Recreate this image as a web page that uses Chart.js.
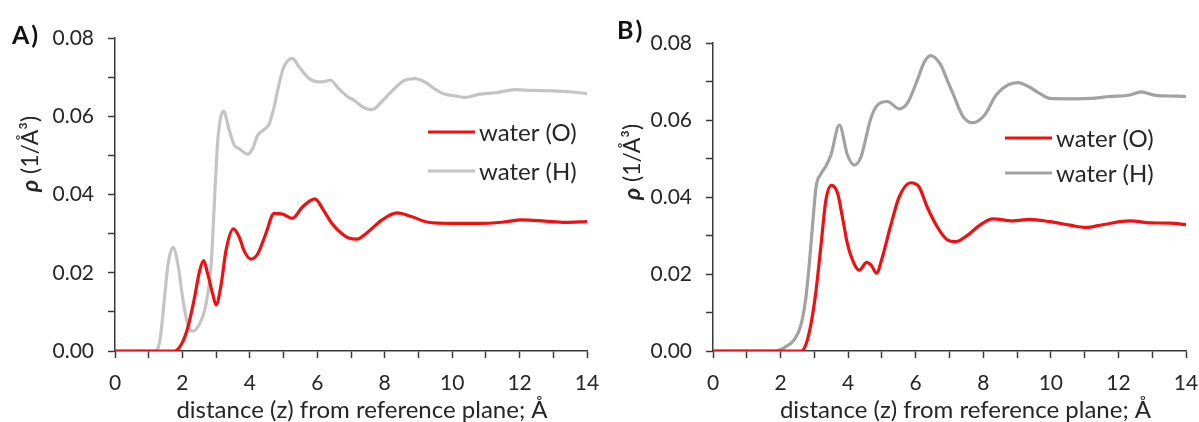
<!DOCTYPE html>
<html>
<head>
<meta charset="utf-8">
<script src="https://cdn.jsdelivr.net/npm/chart.js@4.4.0/dist/chart.umd.min.js"></script>
<style>
  html, body { margin: 0; padding: 0; background: #fff; }
  #wrap { position: relative; width: 1199px; height: 422px; overflow: hidden; }
  .panel { position: absolute; top: 0; height: 422px; }
  .tag { position: absolute; font: bold 25px Lato, "Open Sans", sans-serif; color: #111; letter-spacing: 2px; }
</style>
</head>
<body>
<div id="wrap">
  <div class="panel" style="left:0;width:600px"><canvas id="chartA"></canvas></div>
  <div class="panel" style="left:600px;width:599px"><canvas id="chartB"></canvas></div>
  <div class="tag" style="left:12px;top:19px">A)</div>
  <div class="tag" style="left:617px;top:14px">B)</div>
</div>
<script>
// tick labels
const xTickLabels = [0, 2, 4, 6, 8, 10, 12, 14];
const yTickLabels = [0, 0.02, 0.04, 0.06, 0.08];

// panel A - water (O)
const zA_O = [0, 1.77, 1.97, 2.16, 2.36, 2.51, 2.63, 2.75, 2.9, 3.0, 3.15, 3.29, 3.51, 3.69, 3.83, 4.03, 4.23, 4.47, 4.72, 4.97,
  5.26, 5.56, 5.93, 6.19, 6.44, 6.74, 6.93, 7.17, 7.5, 7.92, 8.37, 8.81, 9.29, 9.99, 10.78, 11.47, 12.07, 12.76, 13.35, 14];
const rhoA_O = [0, 0, 0.0017, 0.006, 0.0137, 0.0205, 0.0231, 0.0197, 0.0145, 0.0118, 0.0171, 0.0256, 0.0312, 0.029, 0.0256, 0.0235, 0.0248, 0.0299, 0.0352, 0.035,
  0.0339, 0.0368, 0.0389, 0.0359, 0.0325, 0.0299, 0.0289, 0.0286, 0.0304, 0.0335, 0.0353, 0.0343, 0.0329, 0.0326, 0.0326, 0.0329, 0.0335, 0.0332, 0.0329, 0.0331];

// panel A - water (H)
const zA_H = [0, 1.18, 1.33, 1.47, 1.57, 1.72, 1.87, 2.02, 2.16, 2.31, 2.5, 2.7, 2.85, 2.98, 3.05, 3.22, 3.39, 3.54, 3.69, 3.93,
  4.08, 4.23, 4.42, 4.57, 4.72, 4.87, 5.01, 5.26, 5.46, 5.75, 6.0, 6.15, 6.39, 6.64, 6.9, 7.12, 7.36, 7.63, 7.93, 8.22,
  8.55, 8.9, 9.2, 9.5, 9.8, 10.09, 10.39, 10.79, 11.28, 11.87, 12.37, 12.97, 13.56, 14];
const rhoA_H = [0, 0, 0.0026, 0.0137, 0.022, 0.0265, 0.022, 0.0128, 0.0068, 0.0051, 0.0068, 0.012, 0.022, 0.0436, 0.054, 0.0613, 0.0564, 0.0526, 0.0517, 0.0503,
  0.0517, 0.0551, 0.0566, 0.058, 0.0624, 0.0684, 0.0726, 0.0748, 0.0726, 0.0697, 0.0688, 0.0688, 0.0692, 0.067, 0.065, 0.0639, 0.0623, 0.0617, 0.0639, 0.0665,
  0.069, 0.0696, 0.0687, 0.0669, 0.0656, 0.0652, 0.0648, 0.0656, 0.066, 0.0668, 0.0666, 0.0665, 0.0662, 0.0658];

// panel B - water (O)
const zB_O = [0, 2.6, 2.75, 2.9, 3.05, 3.2, 3.34, 3.51, 3.69, 3.83, 3.98, 4.18, 4.33, 4.55, 4.69, 4.84, 5.01, 5.26, 5.51, 5.85,
  6.1, 6.34, 6.64, 6.93, 7.19, 7.54, 7.9, 8.28, 8.88, 9.37, 9.97, 10.56, 11.04, 11.53, 12.34, 12.93, 13.52, 14];
const rhoB_O = [0, 0, 0.0017, 0.007, 0.0157, 0.0278, 0.0391, 0.043, 0.0409, 0.0348, 0.0278, 0.0226, 0.021, 0.023, 0.0222, 0.0202, 0.0243, 0.0326, 0.04, 0.0437,
  0.0426, 0.0374, 0.0322, 0.0289, 0.0284, 0.0301, 0.0327, 0.0343, 0.0338, 0.0342, 0.0336, 0.0327, 0.0321, 0.0328, 0.0338, 0.0333, 0.0332, 0.0328];

// panel B - water (H)
const zB_H = [0, 1.82, 2.11, 2.41, 2.61, 2.75, 2.85, 2.95, 3.05, 3.2, 3.34, 3.49, 3.74, 3.98, 4.18, 4.38, 4.67, 4.87, 5.16, 5.51,
  5.75, 6.05, 6.24, 6.44, 6.74, 6.93, 7.1, 7.4, 7.69, 8.04, 8.38, 8.73, 9.03, 9.37, 9.67, 9.97, 10.56, 11.15, 11.74, 12.34,
  12.67, 13.1, 13.7, 14];
const rhoB_H = [0, 0, 0.0009, 0.003, 0.007, 0.0139, 0.0226, 0.033, 0.0426, 0.0461, 0.048, 0.0509, 0.0587, 0.0509, 0.0483, 0.0504, 0.0604, 0.0639, 0.0648, 0.0629,
  0.0643, 0.0704, 0.0748, 0.0767, 0.0743, 0.0704, 0.0669, 0.0609, 0.0593, 0.0613, 0.0665, 0.0691, 0.0697, 0.0685, 0.0669, 0.0656, 0.0655, 0.0656, 0.0661, 0.0665,
  0.0673, 0.0664, 0.0662, 0.0661];

const axisColor = '#3a3a3a';
const textColor = '#262626';
const fontFamily = 'Lato, "Open Sans", sans-serif';

const pts = (xs, ys) => xs.map((x, i) => ({ x: x, y: ys[i] }));

// legend drawn inside the plot area
const inPlotLegend = {
  id: 'inPlotLegend',
  afterDatasetsDraw(chart, args, opts) {
    const { ctx, chartArea } = chart;
    ctx.save();
    ctx.font = opts.fontSize + 'px ' + fontFamily;
    ctx.textBaseline = 'middle';
    chart.data.datasets.forEach((ds, i) => {
      const y = chartArea.top + opts.top + i * opts.gap;
      const x0 = chartArea.right - opts.right;
      ctx.strokeStyle = ds.borderColor;
      ctx.lineWidth = ds.borderWidth;
      ctx.beginPath();
      ctx.moveTo(x0, y);
      ctx.lineTo(x0 + opts.len, y);
      ctx.stroke();
      ctx.fillStyle = textColor;
      ctx.fillText(ds.label, x0 + opts.len + 4, y + 1);
    });
    ctx.restore();
  }
};

// axis titles (rho in bold italic)
const axisTitles = {
  id: 'axisTitles',
  afterDraw(chart, args, opts) {
    const { ctx, chartArea } = chart;
    ctx.save();
    ctx.fillStyle = textColor;
    ctx.font = opts.size + 'px ' + fontFamily;
    ctx.textAlign = 'center';
    ctx.textBaseline = 'middle';
    ctx.fillText(opts.xText, (chartArea.left + chartArea.right) / 2 + opts.xShift, opts.xY);

    ctx.translate(opts.yX, opts.yY);
    ctx.rotate(-Math.PI / 2);
    const rhoFont = 'italic bold ' + opts.ySize + 'px ' + fontFamily;
    const restFont = opts.ySize + 'px ' + fontFamily;
    ctx.font = rhoFont;
    const w1 = ctx.measureText('ρ').width;
    ctx.font = restFont;
    const w2 = ctx.measureText(' (1/Å³)').width;
    const x = -(w1 + w2) / 2;
    ctx.textAlign = 'left';
    ctx.font = rhoFont;
    ctx.fillText('ρ', x, 0);
    ctx.font = restFont;
    ctx.fillText(' (1/Å³)', x + w1, 0);
    ctx.restore();
  }
};

function makeChart(id, o, h, hColor, box, legend, titles) {
  return new Chart(document.getElementById(id), {
    type: 'line',
    data: {
      datasets: [
        { label: 'water (O)', data: o, borderColor: '#f01010', borderWidth: 3.2 },
        { label: 'water (H)', data: h, borderColor: hColor, borderWidth: 3.2 }
      ]
    },
    options: {
      responsive: true,
      maintainAspectRatio: false,
      animation: false,
      layout: { padding: { top: box.top, right: box.padRight, bottom: 0, left: 0 } },
      elements: {
        point: { radius: 0 },
        line: { cubicInterpolationMode: 'monotone', borderCapStyle: 'round' }
      },
      scales: {
        x: {
          type: 'linear', min: 0, max: 14,
          afterFit: (s) => { s.height = 422 - box.bottom; s.paddingLeft = 0; s.paddingRight = 0; },
          border: { display: true, color: axisColor, width: 1.5 },
          grid: { drawOnChartArea: false, drawTicks: true, tickLength: 7, tickWidth: 1.5, tickColor: axisColor },
          ticks: {
            stepSize: 1, padding: 13, color: textColor, maxRotation: 0, autoSkip: false,
            font: { family: fontFamily, size: 21 },
            callback: (v) => xTickLabels.includes(v) ? String(v) : ''
          }
        },
        y: {
          min: 0, max: 0.08,
          afterFit: (s) => { s.width = box.left; s.paddingTop = 0; s.paddingBottom = 0; },
          border: { display: true, color: axisColor, width: 1.5 },
          grid: { drawOnChartArea: false, drawTicks: true, tickLength: 7, tickWidth: 1.5, tickColor: axisColor },
          ticks: {
            stepSize: 0.01, padding: 14, color: textColor, autoSkip: false,
            font: { family: fontFamily, size: 21 },
            callback: (v) => yTickLabels.some(t => Math.abs(t - v) < 1e-9) ? v.toFixed(2) : ''
          }
        }
      },
      plugins: {
        legend: { display: false },
        tooltip: { enabled: false },
        inPlotLegend: legend,
        axisTitles: titles
      }
    },
    plugins: [inPlotLegend, axisTitles]
  });
}

makeChart('chartA', pts(zA_O, rhoA_O), pts(zA_H, rhoA_H), '#c4c4c4',
  { left: 115, top: 38, bottom: 351, padRight: 13 },
  { right: 159, top: 94, gap: 39, len: 47, fontSize: 24 },
  { size: 24, ySize: 23, xText: 'distance (z) from reference plane; Å', xShift: 11, xY: 410, yX: 31, yY: 154 });

makeChart('chartB', pts(zB_O, rhoB_O), pts(zB_H, rhoB_H), '#a2a2a2',
  { left: 113, top: 43, bottom: 351, padRight: 13 },
  { right: 181, top: 95, gap: 35, len: 47, fontSize: 24 },
  { size: 24, ySize: 23, xText: 'distance (z) from reference plane; Å', xShift: 16, xY: 410, yX: 33, yY: 162 });
</script>
</body>
</html>
